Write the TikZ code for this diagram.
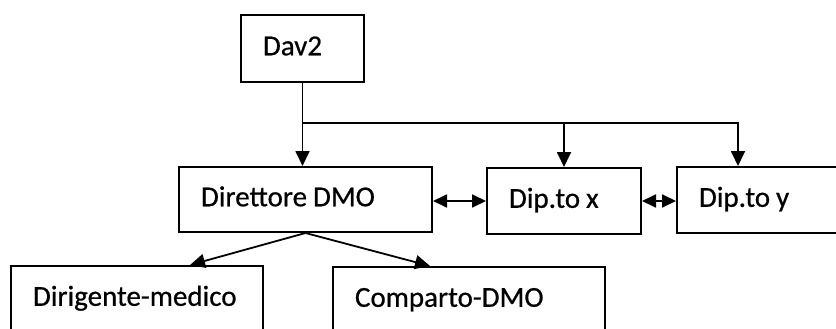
\documentclass[tikz,border=0pt]{standalone}
\usepackage{fontspec}
\setmainfont{Carlito}[FakeBold=0.6]
\usetikzlibrary{arrows.meta}

\begin{document}
\begin{tikzpicture}[x=1pt,y=-1pt,
    box/.style={draw,line width=2pt,align=left,inner xsep=22pt,inner ysep=0pt,
        font=\fontsize{29}{34}\selectfont,execute at begin node={\spaceskip=6pt\relax\strut}},
    arr/.style={line width=1.8pt,-{Triangle[length=15pt,width=14pt]}},
    darr/.style={line width=1.8pt,{Triangle[length=14pt,width=13pt]}-{Triangle[length=14pt,width=13pt]}}]
    \clip (0,0) rectangle (836,329);

    % Vertice
    \node[box,text width=79pt,minimum height=67pt] (dav) at (302.5,48.5) {Dav2};

    % Livello intermedio
    \node[box,text width=209pt,minimum height=65pt] (dir) at (305.5,199.5) {Direttore DMO};
    \node[box,text width=110pt,minimum height=66pt] (dipx) at (564,201) {Dip.to x};
    \node[box,text width=196pt,minimum height=66pt] (dipy) at (797,200) {Dip.to y};

    % Livello inferiore
    \node[box,text width=208pt,minimum height=66pt] (dirig) at (137,299) {Dirigente-medico};
    \node[box,text width=228pt,minimum height=66pt] (comp) at (469,300) {Comparto-DMO};

    % Collegamenti
    \coordinate (bus) at (0,123);
    \draw[arr] (dav.south) -- (dav.south |- dir.north);
    \draw[arr] (dav.south |- bus) -| (dipx.north);
    \draw[arr] (dav.south |- bus) -| ([xshift=62pt]dipy.north west);
    \draw[darr] (dipx.west -| dir.east) -- (dipx.west);
    \draw[darr] (dipx.east) -- (dipx.east -| dipy.west);
    \draw[arr] (dir.south) -- ([xshift=53pt]dirig.north);
    \draw[arr] (dir.south) -- ([xshift=-39pt]comp.north);
\end{tikzpicture}
\end{document}
